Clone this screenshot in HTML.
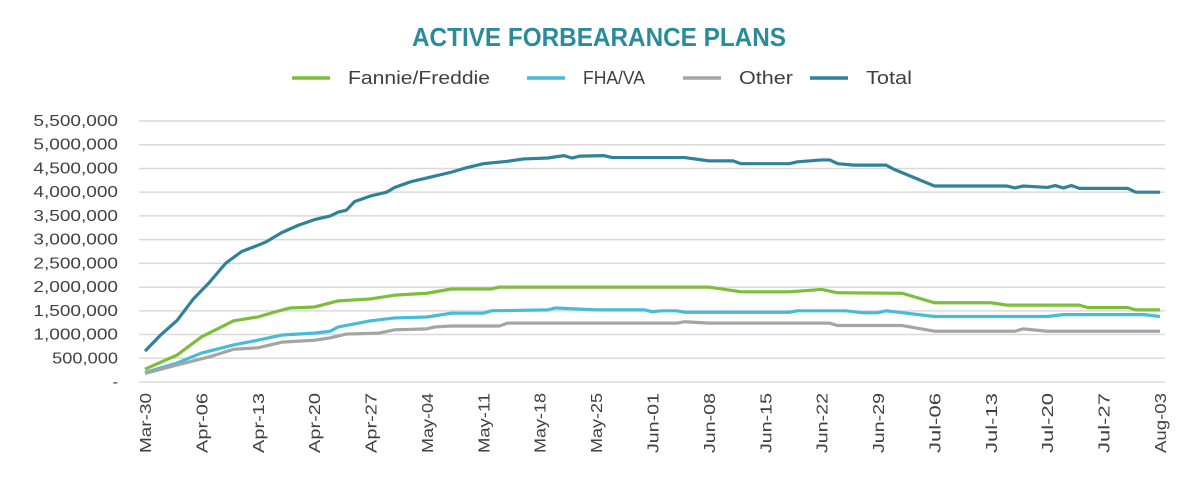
<!DOCTYPE html>
<html><head><meta charset="utf-8">
<style>
body{margin:0;background:#fff;width:1184px;height:479px;overflow:hidden;font-family:"Liberation Sans",sans-serif;}
svg text{font-family:"Liberation Sans",sans-serif;}
</style></head>
<body>
<svg id="chart" width="1184" height="479" xmlns="http://www.w3.org/2000/svg">
<text x="412" y="46" textLength="374" lengthAdjust="spacingAndGlyphs" font-size="26" font-weight="bold" fill="#2a8b9b">ACTIVE FORBEARANCE PLANS</text>
<g id="legend"></g>
<g id="grid"></g>
<g id="yaxis"></g>
<g id="xaxis"></g>
<g id="series"></g>
</svg>
<script>
const xLabels = ["Mar-30","Apr-06","Apr-13","Apr-20","Apr-27","May-04","May-11","May-18","May-25","Jun-01","Jun-08","Jun-15","Jun-22","Jun-29","Jul-06","Jul-13","Jul-20","Jul-27","Aug-03"];
const yTicks = [0,500000,1000000,1500000,2000000,2500000,3000000,3500000,4000000,4500000,5000000,5500000];
const seriesNames = ["Fannie/Freddie","FHA/VA","Other","Total"];
const seriesColors = ["#7cbd3a","#46bcd8","#a5a5a5","#2f8299"];
// [dayIndex, millions]
const totalData = [[0,0.65],[2,1.0],[4,1.3],[6,1.75],[8,2.1],[10,2.5],[12,2.75],[14,2.88],[15,2.95],[17,3.15],[19,3.3],[21,3.42],[23,3.5],[24,3.58],[25,3.62],[26,3.8],[28,3.92],[30,4.0],[31,4.1],[33,4.22],[35,4.3],[38,4.42],[40,4.52],[42,4.6],[45,4.65],[47,4.7],[50,4.72],[52,4.77],[53,4.72],[54,4.76],[57,4.77],[58,4.73],[67,4.73],[70,4.66],[73,4.66],[74,4.6],[80,4.6],[81,4.64],[84,4.68],[85,4.68],[86,4.6],[88,4.57],[92,4.57],[93,4.48],[98,4.13],[107,4.13],[108,4.09],[109,4.13],[112,4.1],[113,4.14],[114,4.09],[115,4.14],[116,4.08],[122,4.08],[123,4.0],[126,4.0]];
const ffData = [[0,0.27],[4,0.57],[7,0.95],[11,1.29],[14,1.37],[16,1.47],[18,1.56],[21,1.58],[24,1.71],[28,1.75],[31,1.83],[35,1.87],[38,1.96],[43,1.96],[44,2.0],[70,2.0],[72,1.95],[74,1.9],[80,1.9],[84,1.95],[86,1.88],[94,1.87],[98,1.67],[105,1.67],[107,1.62],[116,1.62],[117,1.57],[122,1.57],[123,1.52],[126,1.52]];
const fhaData = [[0,0.2],[4,0.4],[7,0.61],[11,0.78],[14,0.88],[17,0.99],[21,1.03],[23,1.07],[24,1.16],[28,1.29],[31,1.35],[35,1.37],[38,1.45],[42,1.45],[43,1.5],[50,1.52],[51,1.56],[56,1.52],[62,1.52],[63,1.48],[64,1.5],[66,1.5],[67,1.47],[80,1.47],[81,1.5],[87,1.5],[89,1.46],[91,1.46],[92,1.5],[94,1.46],[98,1.38],[112,1.38],[114,1.42],[124,1.42],[126,1.38]];
const otherData = [[0,0.18],[4,0.36],[8,0.53],[11,0.69],[14,0.72],[17,0.84],[21,0.88],[23,0.93],[25,1.01],[29,1.03],[31,1.1],[35,1.12],[36,1.16],[38,1.18],[44,1.18],[45,1.24],[66,1.24],[67,1.27],[70,1.24],[85,1.24],[86,1.19],[94,1.19],[98,1.07],[108,1.07],[109,1.12],[112,1.07],[126,1.07]];
const allData = [ffData, fhaData, otherData, totalData];

const NS="http://www.w3.org/2000/svg";
const X0=145, X1=1160, DAYS=126, Y0=382, Y1=121, YMAX=5500000;
const xs = d => X0 + d*(X1-X0)/DAYS;
const ys = v => Y0 - v/YMAX*(Y0-Y1);
function mk(tag, attrs, parent){const e=document.createElementNS(NS,tag);for(const k in attrs)e.setAttribute(k,attrs[k]);parent.appendChild(e);return e;}
const grid=document.getElementById('grid'), yaxis=document.getElementById('yaxis'), xaxis=document.getElementById('xaxis'), series=document.getElementById('series'), legend=document.getElementById('legend');
yTicks.forEach(t=>{
  const l=mk('line',{x1:139,x2:1165,y1:ys(t),y2:ys(t),stroke:'#d9d9d9','stroke-width':1.5},grid);
  
  
  const label = t===0 ? '-' : t.toLocaleString('en-US');
  const attrs={x:118,y:ys(t)+5,'text-anchor':'end','font-size':16,fill:'#404040'};
  if(t!==0){attrs.textLength=label.length*9.4;attrs.lengthAdjust='spacingAndGlyphs';}
  const tx=mk('text',attrs,yaxis);
  tx.textContent = label;
  
  
});
xLabels.forEach((lab,i)=>{
  const x=xs(i*7);
  const tx=mk('text',{transform:`translate(${x+6},393) rotate(-90)`,'text-anchor':'end','font-size':16,fill:'#404040',textLength:60,lengthAdjust:'spacingAndGlyphs'},xaxis);
  tx.textContent=lab;
  
  
});
allData.forEach((data,i)=>{
  const p=mk('polyline',{points:data.map(([d,v])=>xs(d)+','+ys(v*1e6)).join(' '),fill:'none',stroke:seriesColors[i],'stroke-width':3.2,'stroke-linejoin':'round'},series);
  
  
});
const legX=[292,527,683,810];
const legTextLen=[142,62,54,46];
seriesNames.forEach((n,i)=>{
  const g=mk('g',{},legend);
  
  
  mk('line',{x1:legX[i],x2:legX[i]+38,y1:78,y2:78,stroke:seriesColors[i],'stroke-width':3.5},g);
  const t=mk('text',{x:legX[i]+56,y:84,'font-size':18,fill:'#404040',textLength:legTextLen[i],lengthAdjust:'spacingAndGlyphs'},g);
  t.textContent=n;
});
</script>
</body></html>
